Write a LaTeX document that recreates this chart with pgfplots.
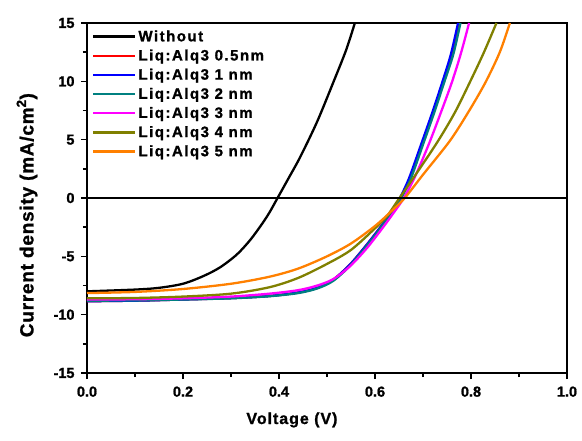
\documentclass[border=0pt]{standalone}
\usepackage{fontspec}
\setmainfont{Liberation Sans}[BoldFeatures={FakeBold=1.2}]
\usepackage{pgfplots}
\pgfplotsset{compat=1.18}
\definecolor{cred}{RGB}{255,0,0}
\definecolor{cblue}{RGB}{0,0,255}
\definecolor{cteal}{RGB}{0,128,128}
\definecolor{cmag}{RGB}{255,0,255}
\definecolor{colive}{RGB}{128,128,0}
\definecolor{corange}{RGB}{255,128,0}
\begin{document}
\begin{tikzpicture}
\begin{axis}[
  scale only axis, width=480bp, height=350bp,
  xmin=0, xmax=1, ymin=-15, ymax=15,
  xtick={0,0.2,...,1.0}, minor xtick={0.1,0.3,...,0.9},
  ytick={-15,-10,...,15}, minor ytick={-12.5,-7.5,...,12.5},
  xticklabel style={/pgf/number format/fixed, /pgf/number format/fixed zerofill, /pgf/number format/precision=1, yshift=-4bp},
  yticklabel style={xshift=-3bp},
  /pgf/number format/assume math mode=true,
  tick align=outside, tick pos=left,
  major tick length=6bp, minor tick length=4bp,
  axis line style={line width=2.5bp},
  every tick/.style={line width=1.5bp, black},
  ticklabel style={font=\fontsize{14.5bp}{16bp}\selectfont\bfseries},
  xlabel={\addfontfeature{LetterSpace=6}Voltage (V)},
  ylabel={\addfontfeature{LetterSpace=4}Current density (mA/cm$^{\mathbf{2}}$)},
  xlabel style={font=\fontsize{16bp}{18bp}\selectfont\bfseries, at={(axis description cs:0.427,-0.134)}, anchor=center},
  ylabel style={font=\fontsize{19bp}{21bp}\selectfont\bfseries, at={(axis description cs:-0.125,0.451)}, anchor=center},
  legend style={at={(0.01,0.985)}, anchor=north west, draw=none, fill=none,
    font=\fontsize{15bp}{17bp}\selectfont\bfseries\addfontfeature{LetterSpace=10}, row sep=2.8bp,
    inner xsep=0pt, inner ysep=0pt},
  legend cell align=left,
  legend image code/.code={\draw[#1, line width=2.5bp] (0bp,0bp) -- (42bp,0bp);},
  every axis plot/.append style={line width=2.3bp, smooth, tension=0.5},
  clip=true,
]
\addplot[black] coordinates {(0,-8.0)(0.1,-7.85)(0.15,-7.7)(0.2,-7.35)(0.242,-6.7)(0.277,-5.95)(0.312,-4.85)(0.34,-3.6)(0.365,-2.2)(0.38,-1.25)(0.397,0)(0.42,1.7)(0.444,3.5)(0.479,6.5)(0.513,9.9)(0.54,12.7)(0.558,15)};
\addlegendentry{Without}
\addplot[cred] coordinates {(0,-8.85)(0.1,-8.8)(0.2,-8.7)(0.3,-8.58)(0.38,-8.4)(0.44,-8.1)(0.48,-7.7)(0.513,-7.0)(0.548,-5.7)(0.583,-4.0)(0.617,-2.2)(0.636,-1.2)(0.653,0)(0.673,1.7)(0.699,4.7)(0.722,7.4)(0.742,9.9)(0.760,12.3)(0.775,15)};
\addlegendentry{Liq:Alq3 0.5nm}
\addplot[cblue] coordinates {(0,-8.85)(0.1,-8.8)(0.2,-8.7)(0.3,-8.58)(0.38,-8.4)(0.44,-8.1)(0.48,-7.7)(0.513,-7.0)(0.548,-5.7)(0.583,-4.0)(0.617,-2.2)(0.635,-1.2)(0.652,0)(0.671,1.7)(0.697,4.7)(0.720,7.4)(0.740,9.9)(0.758,12.3)(0.773,15)};
\addlegendentry{Liq:Alq3 1 nm}
\addplot[cteal] coordinates {(0,-8.8)(0.1,-8.78)(0.2,-8.7)(0.3,-8.6)(0.38,-8.42)(0.44,-8.15)(0.48,-7.75)(0.513,-7.1)(0.548,-5.8)(0.583,-4.1)(0.617,-2.3)(0.637,-1.2)(0.655,0)(0.675,1.7)(0.701,4.7)(0.724,7.4)(0.744,9.9)(0.763,12.3)(0.778,15)};
\addlegendentry{Liq:Alq3 2 nm}
\addplot[cmag] coordinates {(0,-8.7)(0.1,-8.68)(0.2,-8.6)(0.3,-8.45)(0.38,-8.2)(0.44,-7.9)(0.48,-7.5)(0.513,-6.95)(0.548,-5.85)(0.583,-4.3)(0.617,-2.5)(0.64,-1.2)(0.66,0)(0.683,1.8)(0.712,4.6)(0.737,7.3)(0.76,9.9)(0.779,12.4)(0.796,15)};
\addlegendentry{Liq:Alq3 3 nm}
\addplot[colive] coordinates {(0,-8.6)(0.1,-8.57)(0.2,-8.45)(0.3,-8.2)(0.38,-7.65)(0.44,-6.85)(0.5,-5.65)(0.55,-4.45)(0.6,-2.6)(0.625,-1.55)(0.651,0)(0.683,1.9)(0.73,4.8)(0.766,7.3)(0.795,9.7)(0.826,12.4)(0.853,15)};
\addlegendentry{Liq:Alq3 4 nm}
\addplot[corange] coordinates {(0,-8.15)(0.1,-8.05)(0.2,-7.8)(0.3,-7.35)(0.38,-6.75)(0.44,-6.05)(0.5,-5.0)(0.55,-3.9)(0.6,-2.4)(0.635,-1.1)(0.662,0)(0.7,2.0)(0.756,4.9)(0.795,7.4)(0.83,9.9)(0.86,12.5)(0.881,15)};
\addlegendentry{Liq:Alq3 5 nm}
\addplot[black, line width=1.2bp, sharp plot, forget plot] coordinates {(0,0)(1,0)};
\end{axis}
\pgfresetboundingbox
\path[use as bounding box] (-87bp,-68bp) rectangle (495bp,373bp);
\end{tikzpicture}
\end{document}
